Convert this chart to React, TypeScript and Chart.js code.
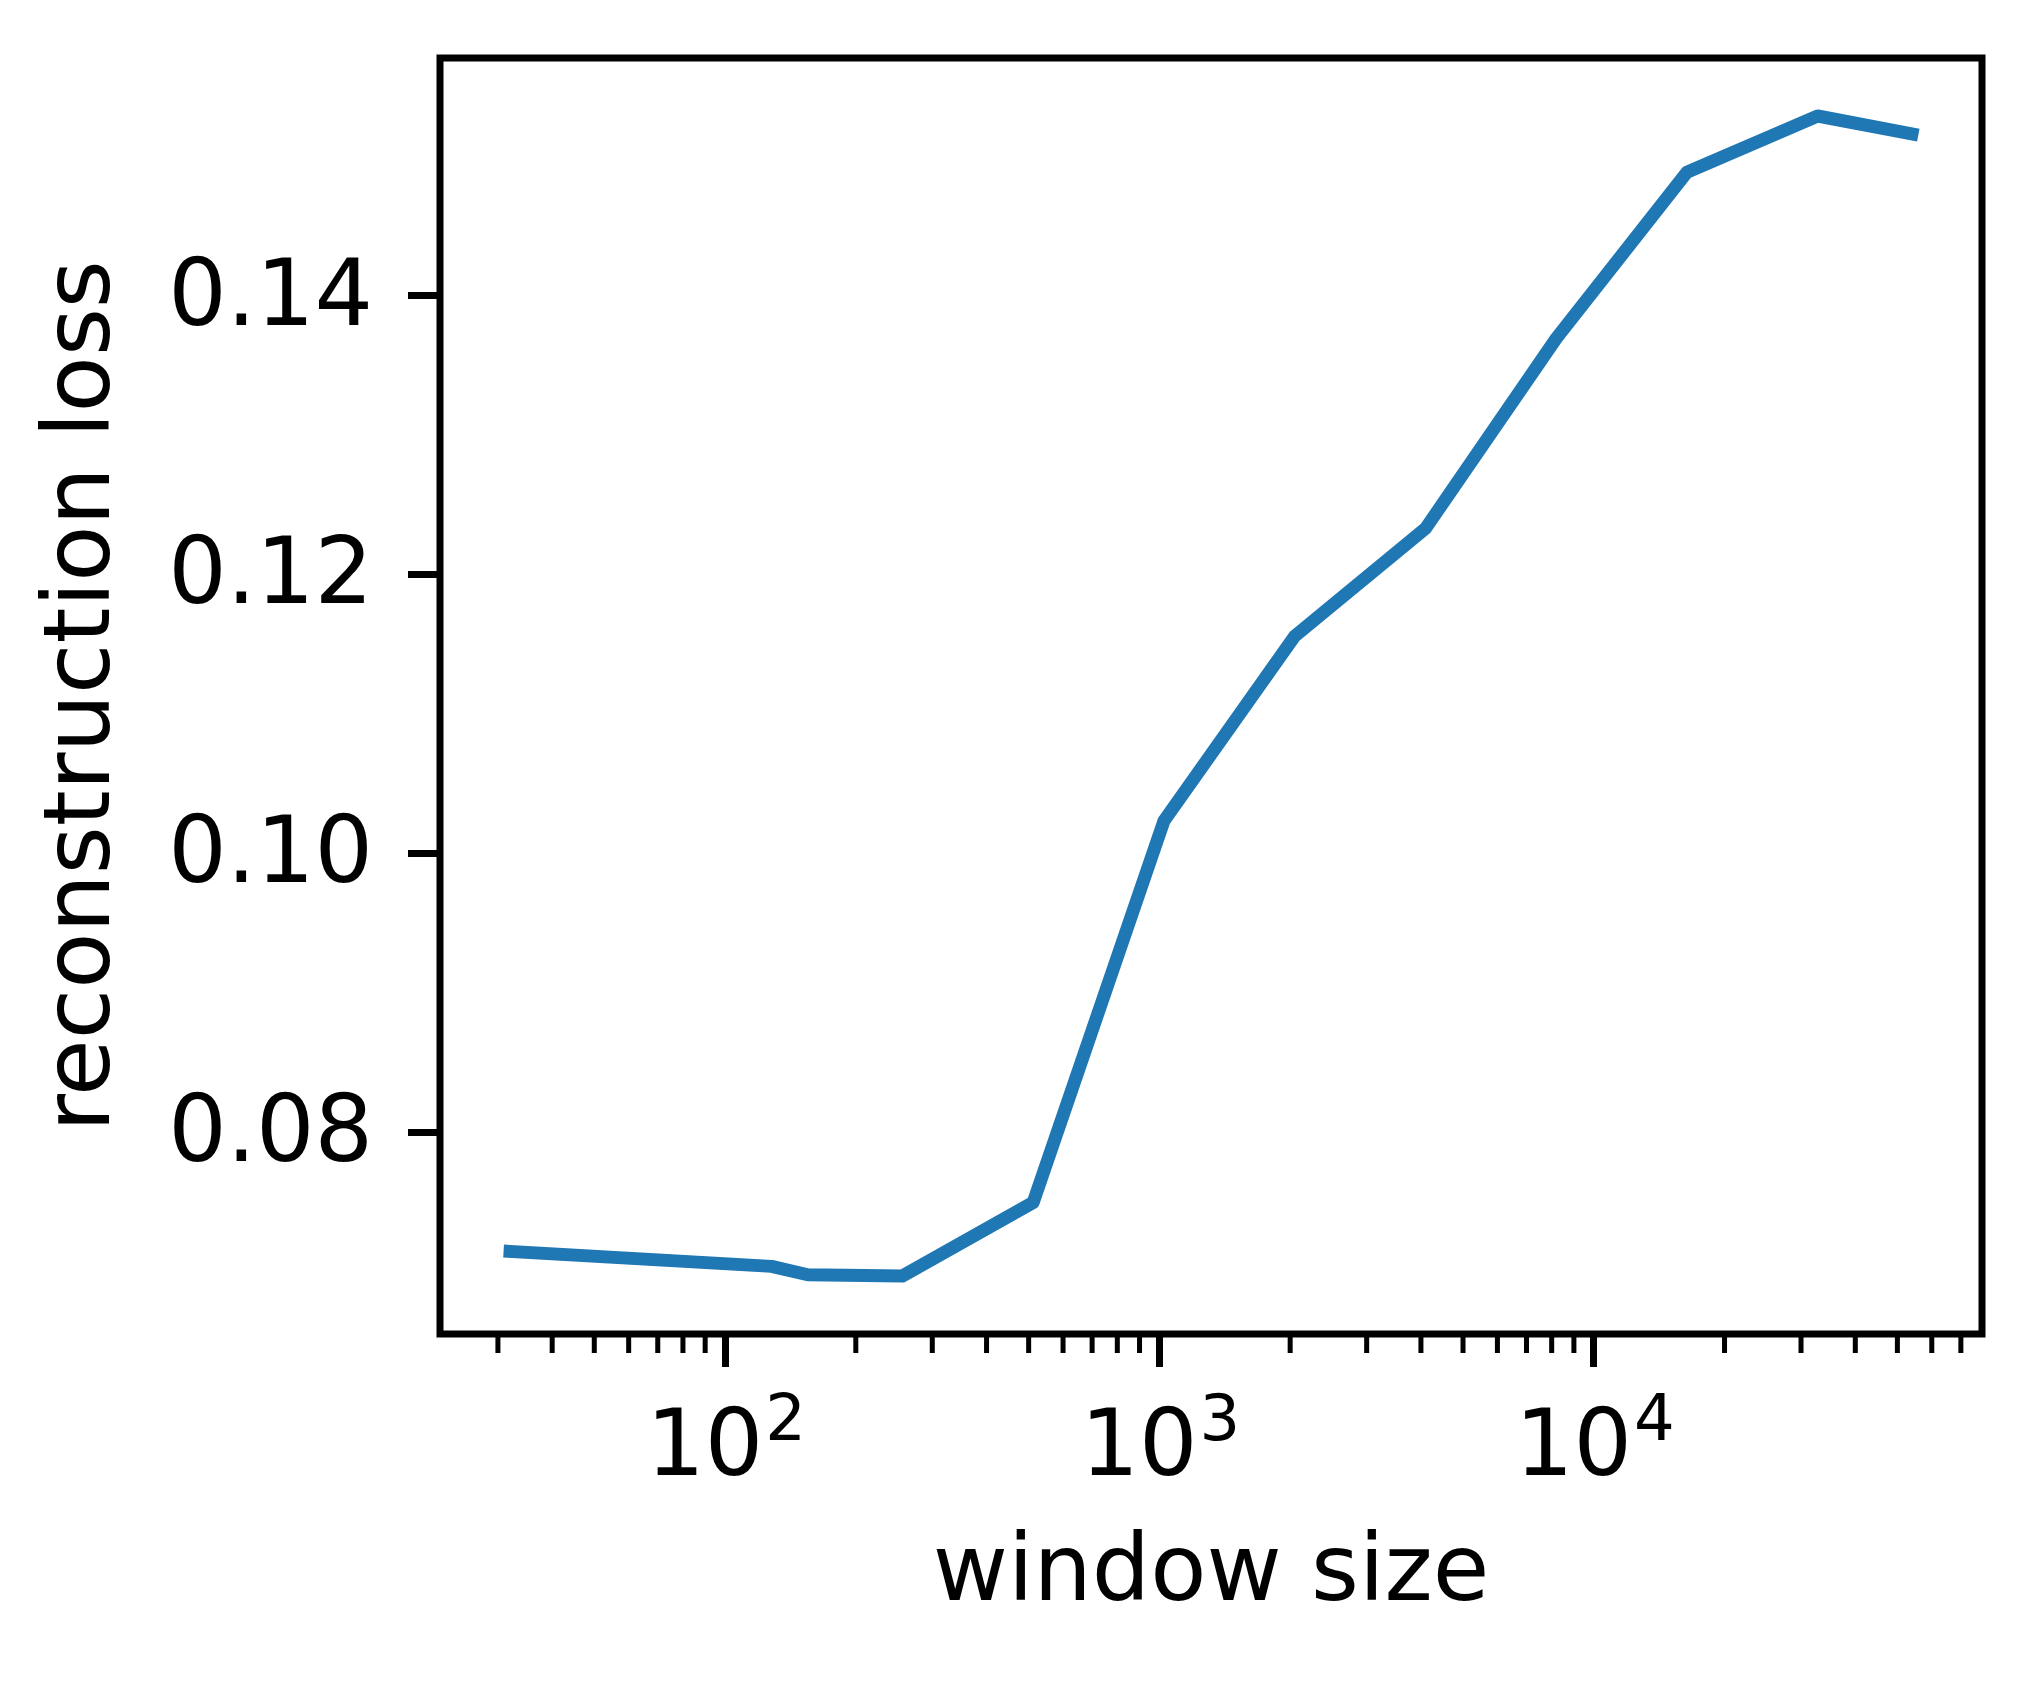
import React, { useEffect, useRef } from 'react';
import { Chart, registerables } from 'chart.js';

Chart.register(...registerables);

// ---- data ----
const windowSizes = [32, 128, 155, 256, 512, 1024, 2048, 4096, 8192, 16384, 32768, 54000];
const reconstructionLoss = [0.07144, 0.07037, 0.06977, 0.06968, 0.07495, 0.10232, 0.11558, 0.1233, 0.13694, 0.14886, 0.1529, 0.15161];

const xMajorTicks = [100, 1000, 10000];
const xMajorBase = ['10', '10', '10'];
const xMajorExponents = ['2', '3', '4'];
const xMinorTicks = [
  20, 30, 40, 50, 60, 70, 80, 90,
  200, 300, 400, 500, 600, 700, 800, 900,
  2000, 3000, 4000, 5000, 6000, 7000, 8000, 9000,
  20000, 30000, 40000, 50000, 60000, 70000, 80000, 90000,
];
const yTicks = [0.08, 0.1, 0.12, 0.14];
const yTickLabels = ['0.08', '0.10', '0.12', '0.14'];

const xTitle = 'window size';
const yTitle = 'reconstruction loss';

// matplotlib-like 5% margins
const logX = windowSizes.map((v) => Math.log10(v));
const lxMin = Math.min(...logX);
const lxMax = Math.max(...logX);
const lxPad = (lxMax - lxMin) * 0.05;
const X_MIN = Math.pow(10, lxMin - lxPad);
const X_MAX = Math.pow(10, lxMax + lxPad);
const yMinData = Math.min(...reconstructionLoss);
const yMaxData = Math.max(...reconstructionLoss);
const yPad = (yMaxData - yMinData) * 0.05;
const Y_MIN = yMinData - yPad;
const Y_MAX = yMaxData + yPad;

const FONT = 'DejaVu Sans';
const FONT_SIZE = 92;
const SUP_SIZE = 64;

const frameTicksLabels = {
  id: 'frameTicksLabels',
  afterDraw(chart: any) {
    const { ctx, chartArea: a, scales } = chart;
    const xs = scales.x;
    ctx.save();
    // minor ticks
    ctx.strokeStyle = '#000';
    ctx.lineWidth = 5;
    ctx.beginPath();
    for (const v of xMinorTicks) {
      const px = xs.getPixelForValue(v);
      if (px < a.left || px > a.right) continue;
      ctx.moveTo(px, a.bottom);
      ctx.lineTo(px, a.bottom + 19);
    }
    ctx.stroke();
    // frame
    ctx.lineWidth = 7;
    ctx.lineJoin = 'miter';
    ctx.strokeRect(a.left, a.top, a.right - a.left, a.bottom - a.top);
    // x tick labels: base with superscript exponent
    ctx.fillStyle = '#000';
    ctx.textBaseline = 'alphabetic';
    ctx.textAlign = 'left';
    const baseY = a.bottom + 141;
    xMajorTicks.forEach((v, i) => {
      const px = xs.getPixelForValue(v);
      ctx.font = `${FONT_SIZE}px "${FONT}"`;
      const wBase = ctx.measureText(xMajorBase[i]).width;
      ctx.font = `${SUP_SIZE}px "${FONT}"`;
      const wExp = ctx.measureText(xMajorExponents[i]).width;
      const left = px - (wBase + wExp) / 2;
      ctx.font = `${FONT_SIZE}px "${FONT}"`;
      ctx.fillText(xMajorBase[i], left, baseY);
      ctx.font = `${SUP_SIZE}px "${FONT}"`;
      ctx.fillText(xMajorExponents[i], left + wBase + 2, baseY - 35);
    });
    ctx.restore();
  },
};

export default function App() {
  const canvasRef = useRef<HTMLCanvasElement | null>(null);

  useEffect(() => {
    const canvas = canvasRef.current;
    if (!canvas) return;
    const chart = new Chart(canvas, {
      type: 'line',
      data: {
        datasets: [
          {
            data: windowSizes.map((x, i) => ({ x, y: reconstructionLoss[i] })),
            borderColor: '#1f77b4',
            backgroundColor: '#1f77b4',
            borderWidth: 13,
            pointRadius: 0,
            pointHoverRadius: 0,
            tension: 0,
            fill: false,
            borderCapStyle: 'square',
            borderJoinStyle: 'round',
          },
        ],
      },
      options: {
        animation: false,
        responsive: false,
        devicePixelRatio: 1,
        events: [],
        layout: { padding: { left: 0, top: 58, right: 51, bottom: 0 } },
        plugins: {
          legend: { display: false },
          tooltip: { enabled: false },
        },
        scales: {
          x: {
            type: 'logarithmic',
            position: 'bottom',
            min: X_MIN,
            max: X_MAX,
            bounds: 'data',
            afterBuildTicks: (s: any) => {
              s.ticks = xMajorTicks.map((v) => ({ value: v }));
            },
            afterFit: (s: any) => {
              s.height = 356;
              s.paddingLeft = 0;
              s.paddingRight = 0;
            },
            border: { display: false },
            grid: {
              display: true,
              drawOnChartArea: false,
              drawTicks: true,
              tickLength: 33,
              tickWidth: 7,
              tickColor: '#000',
            },
            ticks: {
              display: false,
              font: { family: FONT, size: FONT_SIZE },
              maxRotation: 0,
              minRotation: 0,
              autoSkip: false,
            },
            title: {
              display: true,
              text: xTitle,
              color: '#000',
              font: { family: FONT, size: FONT_SIZE },
              padding: { top: 0, bottom: 59 },
            },
          },
          y: {
            type: 'linear',
            position: 'left',
            min: Y_MIN,
            max: Y_MAX,
            bounds: 'data',
            afterBuildTicks: (s: any) => {
              s.ticks = yTicks.map((v) => ({ value: v }));
            },
            afterFit: (s: any) => {
              s.width = 440;
              s.paddingTop = 0;
              s.paddingBottom = 0;
            },
            border: { display: false },
            grid: {
              display: true,
              drawOnChartArea: false,
              drawTicks: true,
              tickLength: 32,
              tickWidth: 7,
              tickColor: '#000',
            },
            ticks: {
              color: '#000',
              font: { family: FONT, size: FONT_SIZE },
              padding: 35,
              labelOffset: 5,
              autoSkip: false,
              callback: (_v: any, i: number) => yTickLabels[i],
            },
            title: {
              display: true,
              text: yTitle,
              color: '#000',
              font: { family: FONT, size: FONT_SIZE },
              padding: { top: 30, bottom: 0 },
            },
          },
        },
      },
      plugins: [frameTicksLabels],
    } as any);
    return () => chart.destroy();
  }, []);

  return (
    <div style={{ position: 'absolute', left: 0, top: 0, width: 2033, height: 1690, background: '#fff' }}>
      <canvas ref={canvasRef} width={2033} height={1690} style={{ display: 'block' }} />
    </div>
  );
}
